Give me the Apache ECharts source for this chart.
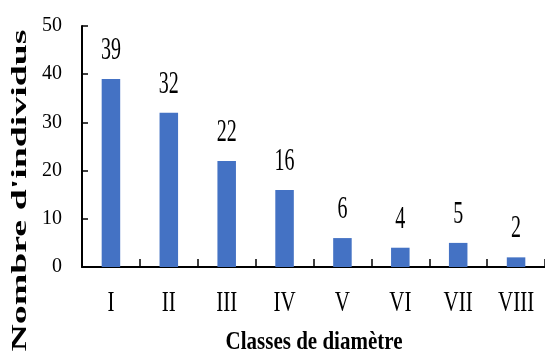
<!DOCTYPE html>
<html>
<head>
<meta charset="utf-8">
<script src="https://cdn.jsdelivr.net/npm/echarts@6/dist/echarts.min.js"></script>
<style>
  html, body { margin: 0; padding: 0; background: #fff; }
  #chart { width: 545px; height: 354px; }
</style>
</head>
<body>
<div id="chart"></div>
<script>
// Diameter classes and number of individuals per class
const classes = ['I', 'II', 'III', 'IV', 'V', 'VI', 'VII', 'VIII'];
const counts = [39, 32, 22, 16, 6, 4, 5, 2];
const yTicks = [0, 10, 20, 30, 40, 50];

const xTitle = 'Classes de diamètre';
const yTitle = "Nombre d'individus";

const SERIF = '"Liberation Serif", "Times New Roman", serif';
const BAR_COLOR = '#4472C4';

const chart = echarts.init(document.getElementById('chart'), null, { renderer: 'canvas' });

// Bars with value labels above and class labels below, drawn through the axis scales
function renderBar(params, api) {
  const idx = api.value(0);
  const val = api.value(1);
  const top = api.coord([idx, val]);
  const base = api.coord([idx, 0]);
  const w = api.size([1, 0])[0] * 0.32;
  return {
    type: 'group',
    children: [
      {
        type: 'rect',
        shape: { x: top[0] - w / 2, y: top[1], width: w, height: base[1] - top[1] },
        style: { fill: BAR_COLOR }
      },
      {
        type: 'text',
        x: top[0],
        y: top[1] - 28,
        scaleY: 1.55,
        style: {
          text: String(val),
          font: '20px ' + SERIF,
          fill: '#000',
          align: 'center',
          verticalAlign: 'middle'
        }
      },
      {
        type: 'text',
        x: base[0],
        y: base[1] + 36.5,
        scaleY: 1.45,
        style: {
          text: classes[idx],
          font: '21px ' + SERIF,
          fill: '#000',
          align: 'center',
          verticalAlign: 'middle'
        }
      }
    ]
  };
}

chart.setOption({
  animation: false,
  backgroundColor: '#fff',
  grid: { left: 82, right: 0, top: 26, bottom: 87, outerBoundsMode: 'none' },
  xAxis: {
    type: 'category',
    data: classes,
    boundaryGap: true,
    axisLine: { show: true, lineStyle: { color: '#000', width: 2 } },
    axisTick: { show: true, inside: true, length: 8, lineStyle: { color: '#000', width: 1.5 } },
    axisLabel: { show: false },
    splitLine: { show: false }
  },
  yAxis: {
    type: 'value',
    min: yTicks[0],
    max: yTicks[yTicks.length - 1],
    interval: yTicks[1] - yTicks[0],
    axisLine: { show: true, lineStyle: { color: '#000', width: 2 } },
    axisTick: { show: true, inside: true, length: 6, lineStyle: { color: '#000', width: 1.5 } },
    axisLabel: { color: '#000', fontFamily: SERIF, fontSize: 20, margin: 20 },
    splitLine: { show: false }
  },
  series: [{
    type: 'custom',
    renderItem: renderBar,
    encode: { x: 0, y: 1 },
    data: counts.map((v, i) => [i, v]),
    clip: false
  }],
  graphic: [
    {
      type: 'text',
      x: 314,
      y: 343,
      scaleY: 1.17,
      style: {
        text: xTitle,
        font: 'bold 21px ' + SERIF,
        fill: '#000',
        align: 'center',
        verticalAlign: 'middle'
      }
    },
    {
      type: 'text',
      x: 20.5,
      y: 190.5,
      rotation: Math.PI / 2,
      scaleX: 1.72,
      style: {
        text: yTitle,
        font: 'bold 22px ' + SERIF,
        fill: '#000',
        align: 'center',
        verticalAlign: 'middle'
      }
    }
  ]
});
</script>
</body>
</html>
